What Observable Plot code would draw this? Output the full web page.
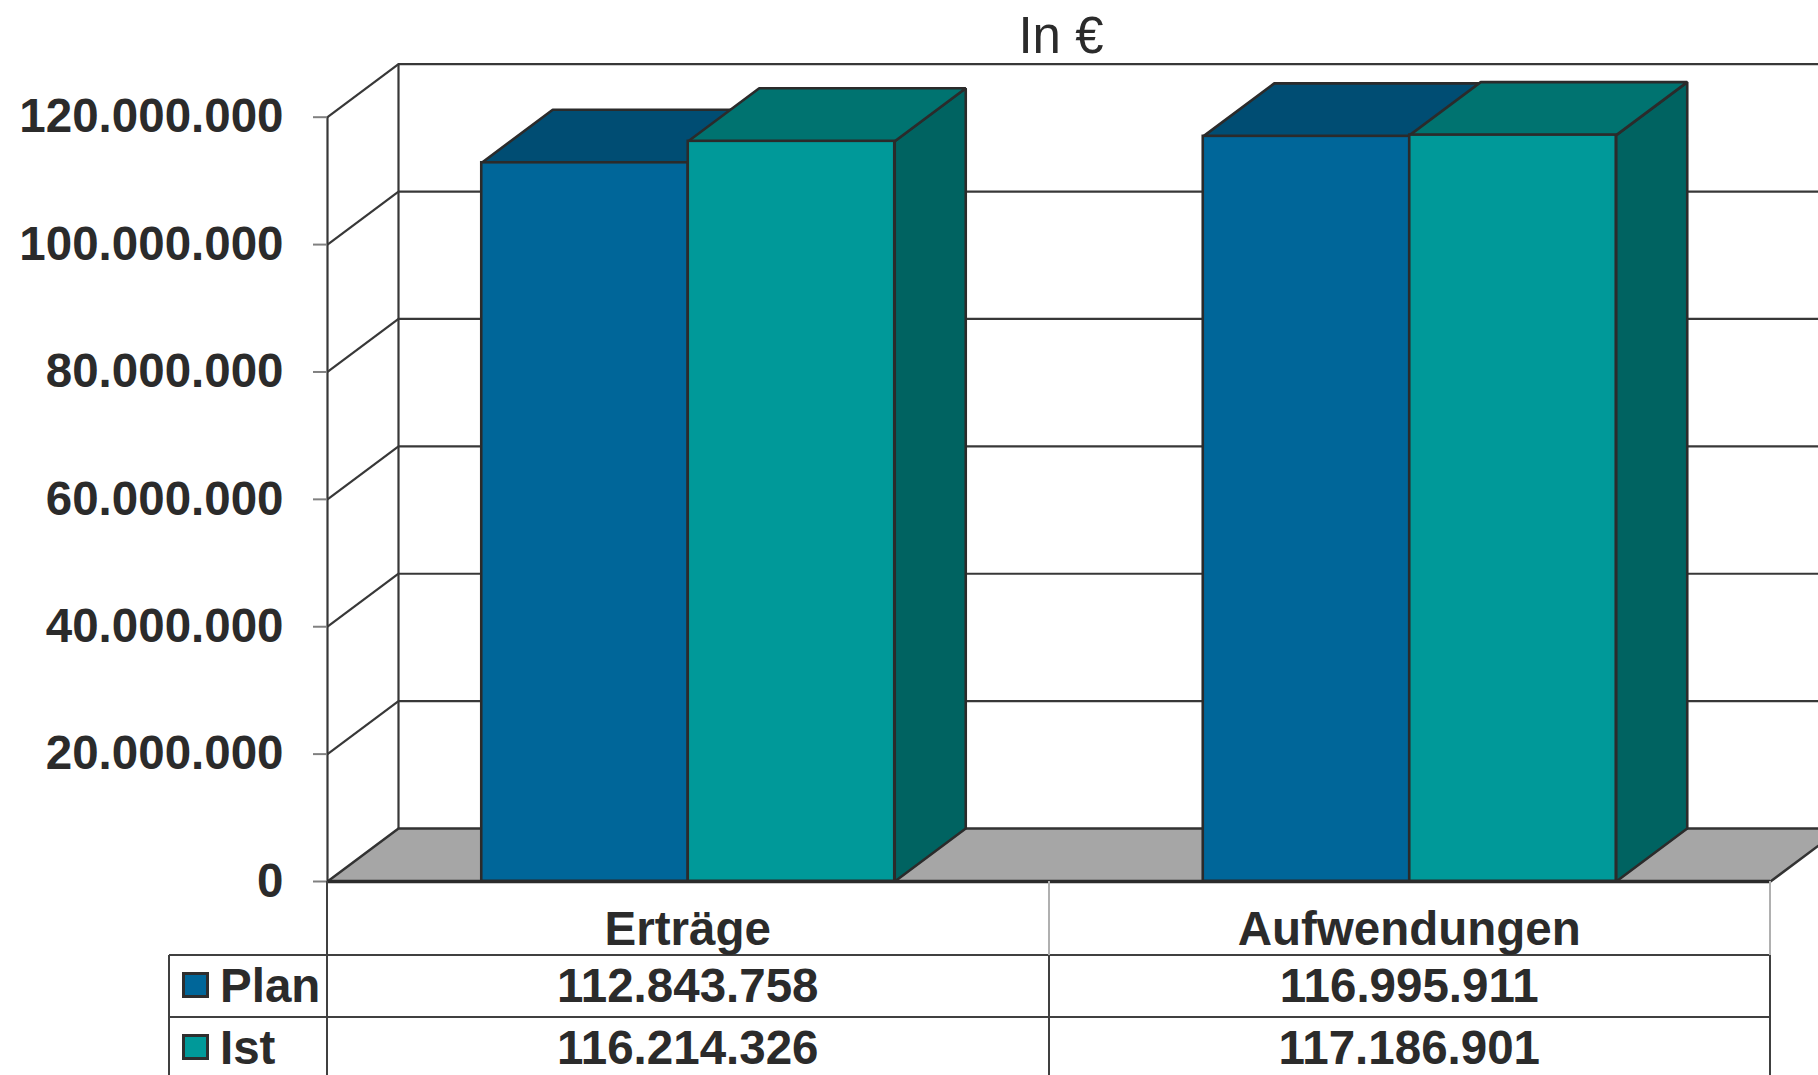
<!DOCTYPE html>
<html>
<head>
<meta charset="utf-8">
<script src="https://cdn.jsdelivr.net/npm/d3@7"></script>
<script src="https://cdn.jsdelivr.net/npm/@observablehq/plot@0.6"></script>
<style>
html, body { margin: 0; padding: 0; background: #fff; overflow: hidden; }
#root { position: relative; width: 1818px; height: 1075px; font-family: "Liberation Sans", Arial, sans-serif; color: #2b2b2b; overflow: hidden; }
#title { position: absolute; top: 10px; left: 0; width: 2122px; text-align: center; font-size: 51px; line-height: 1; font-weight: normal; }
.cell { position: absolute; font-size: 47.5px; font-weight: bold; line-height: 1; white-space: nowrap; }
.hl, .vl { position: absolute; background: #404040; }
.key { position: absolute; width: 21px; height: 20px; border: 3px solid #2e2e2e; }
</style>
</head>
<body>
<div id="root"><div id="title">In €</div></div>
<script>
// ---- data ----
const categories = ["Erträge", "Aufwendungen"];
const seriesNames = ["Plan", "Ist"];
const planValues = [112843758, 116995911];
const istValues = [116214326, 117186901];
const yTicks = [0, 20000000, 40000000, 60000000, 80000000, 100000000, 120000000];
const frontColors = ["#006699", "#009999"];
const topColors = ["#004d73", "#007370"];
const sideColors = ["#005580", "#006361"];

// ---- layout ----
const W = 1818, H = 1075;
const mL = 327, mR = 48, mT = 116.7, mB = 194;
const depthPx = [71, 53];
const yMax = 120000000;
const xUnit = (W - mL - mR) / categories.length;
const yUnit = (H - mT - mB) / yMax;
const DX = depthPx[0] / xUnit, DY = depthPx[1] / yUnit;
const barW = 0.2862;
const ink = "#2b2b2b";

const fmt = d3.formatLocale({decimal: ",", thousands: ".", grouping: [3], currency: ["", " €"]}).format(",");

const seriesValues = [planValues, istValues];
const bars = [];
categories.forEach((c, i) => {
  seriesValues.forEach((vals, s) => {
    const x1 = i + 0.5 - barW + s * barW, x2 = x1 + barW;
    bars.push({cat: c, series: seriesNames[s], s, x1, x2, v: vals[i], id: c + "-" + s});
  });
});
const topPts = s => bars.filter(b => b.s === s).flatMap(b => [
  {id: b.id, x: b.x1, y: b.v}, {id: b.id, x: b.x2, y: b.v},
  {id: b.id, x: b.x2 + DX, y: b.v + DY}, {id: b.id, x: b.x1 + DX, y: b.v + DY}
]);
const sidePts = s => bars.filter(b => b.s === s).flatMap(b => [
  {id: b.id, x: b.x2, y: 0}, {id: b.id, x: b.x2 + DX, y: DY},
  {id: b.id, x: b.x2 + DX, y: b.v + DY}, {id: b.id, x: b.x2, y: b.v}
]);
const n = categories.length;
const floorPts = [
  {x: 0, y: 0}, {x: n, y: 0}, {x: n + DX, y: DY}, {x: DX, y: DY}
];

const barMarks = [];
[0, 1].forEach(s => {
  barMarks.push(Plot.line(sidePts(s), {x: "x", y: "y", z: "id", curve: "linear-closed", fill: sideColors[s], stroke: ink, strokeWidth: 2.6, strokeLinejoin: "miter"}));
  barMarks.push(Plot.line(topPts(s), {x: "x", y: "y", z: "id", curve: "linear-closed", fill: topColors[s], stroke: ink, strokeWidth: 2.6, strokeLinejoin: "miter"}));
  barMarks.push(Plot.rect(bars.filter(b => b.s === s), {x1: "x1", x2: "x2", y1: 0, y2: "v", fill: frontColors[s], stroke: ink, strokeWidth: 2.6}));
});

const chart = Plot.plot({
  width: W, height: H,
  marginLeft: mL, marginRight: mR, marginTop: mT, marginBottom: mB,
  x: {type: "linear", domain: [0, n], axis: null},
  y: {type: "linear", domain: [0, yMax], axis: null},
  style: {fontFamily: '"Liberation Sans", Arial, sans-serif', color: ink, background: "transparent", overflow: "hidden"},
  marks: [
    // back wall grid lines
    Plot.ruleY(yTicks.slice(1), {y: d => d + DY, x1: DX, x2: n + DX + 0.2, stroke: "#383838", strokeWidth: 2.2}),
    // side wall
    Plot.ruleX([DX], {y1: DY, y2: yMax + DY, stroke: "#383838", strokeWidth: 2.2}),
    Plot.ruleX([0], {y1: 0, y2: yMax, stroke: "#383838", strokeWidth: 2.2}),
    Plot.link(yTicks.slice(1), {x1: 0, y1: d => d, x2: DX, y2: d => d + DY, stroke: "#383838", strokeWidth: 2.2}),
    // floor
    Plot.line(floorPts, {x: "x", y: "y", curve: "linear-closed", fill: "#a6a6a6", stroke: "#333", strokeWidth: 2.5, strokeLinejoin: "miter"}),
    ...barMarks,
    Plot.ruleY([0], {x1: 0, x2: n, stroke: ink, strokeWidth: 3.5}),
    // y axis
    Plot.axisY(yTicks, {tickSize: 14, tickPadding: 30, tickFormat: fmt, stroke: "#808080", strokeWidth: 2, fill: ink, fontSize: 47.5, fontWeight: "bold", label: null})
  ]
});
const root = document.getElementById("root");
chart.style.position = "absolute";
chart.style.left = "0px";
chart.style.top = "0px";
root.insertBefore(chart, root.firstChild);

// ---- data table (legend) below the plot ----
const xs = chart.scale("x");
const px = v => xs.apply(v);
const rowLines = [881, 954.7, 1017.3];
const tableLeft = 169;
const catTop = 904.8, rowTops = [961.8, 1023.8];
function add(cls, css, text) {
  const d = document.createElement("div");
  d.className = cls;
  Object.assign(d.style, css);
  if (text != null) d.textContent = text;
  root.appendChild(d);
  return d;
}
// horizontal lines
[rowLines[1], rowLines[2]].forEach(y => add("hl", {left: tableLeft + "px", top: (y - 1) + "px", width: (px(n) - tableLeft) + "px", height: "2px"}));
// vertical lines
add("vl", {left: (tableLeft - 1) + "px", top: rowLines[1] + "px", width: "2px", height: (H - rowLines[1]) + "px"});
for (let i = 0; i <= n; i++) {
  const x = px(i);
  if (i === 0) {
    add("vl", {left: (x - 1) + "px", top: rowLines[0] + "px", width: "2px", height: (H - rowLines[0]) + "px"});
  } else {
    add("vl", {left: (x - 1) + "px", top: rowLines[0] + "px", width: "2px", height: (rowLines[1] - rowLines[0]) + "px", background: "#b0b0b0"});
    add("vl", {left: (x - 1) + "px", top: rowLines[1] + "px", width: "2px", height: (H - rowLines[1]) + "px"});
  }
}
// category labels
categories.forEach((c, i) => {
  const cx = px(i + 0.5);
  add("cell", {left: (cx - 300) + "px", width: "600px", textAlign: "center", top: catTop + "px"}, c);
});
// rows
seriesNames.forEach((s, r) => {
  const top = rowTops[r];
  add("key", {left: "182px", top: (top + 10.5) + "px", background: frontColors[r]});
  add("cell", {left: "220px", top: top + "px"}, s);
  seriesValues[r].forEach((v, i) => {
    const cx = px(i + 0.5);
    add("cell", {left: (cx - 300) + "px", width: "600px", textAlign: "center", top: top + "px"}, fmt(v));
  });
});
</script>
</body>
</html>
